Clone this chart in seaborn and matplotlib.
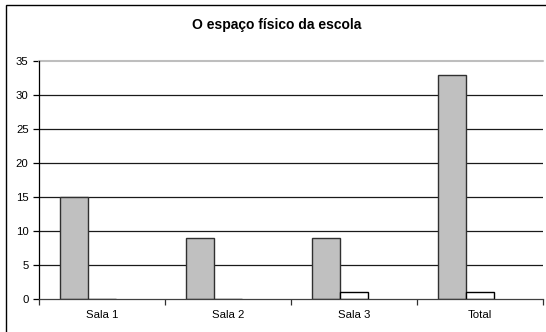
import matplotlib
matplotlib.use("Agg")
import matplotlib.pyplot as plt
from matplotlib.patches import Rectangle
from matplotlib.ticker import FixedLocator, NullFormatter
import pandas as pd
import seaborn as sns

# Data
categorias = ["Sala 1", "Sala 2", "Sala 3", "Total"]
series = ["Série 1", "Série 2", "Série 3"]
serie_1 = [15, 9, 9, 33]
serie_2 = [0, 0, 1, 1]
serie_3 = [0, 0, 0, 0]
y_ticks = [0, 5, 10, 15, 20, 25, 30, 35]
titulo = "O espaço físico da escola"

df = pd.DataFrame({
    "categoria": categorias * 3,
    "serie": [series[0]] * 4 + [series[1]] * 4 + [series[2]] * 4,
    "valor": serie_1 + serie_2 + serie_3,
})

sns.set_style("white", {"text.color": "black", "xtick.color": "black",
                        "ytick.color": "black"})
plt.rcParams["font.family"] = ["Liberation Sans", "DejaVu Sans"]

W, H = 546, 332
fig = plt.figure(figsize=(W / 100, H / 100), dpi=100)
ax = fig.add_axes([39 / W, (H - 299) / H, (543 - 39) / W, (299 - 61) / H])

palette = {series[0]: "#C0C0C0", series[1]: "#FFFFFF", series[2]: "#FFFFFF"}
sns.barplot(data=df, x="categoria", y="valor", hue="serie", order=categorias,
            hue_order=series, palette=palette, width=0.667, dodge=True,
            errorbar=None, saturation=1, legend=False, ax=ax, zorder=3)

# Bar outlines per series (patches are grouped by series)
n = len(categorias)
for i, p in enumerate(ax.patches):
    s = i // n
    if s == 0:
        p.set_edgecolor("#303030")
        p.set_linewidth(1.0)
    elif s == 1:
        p.set_edgecolor("#000000")
        p.set_linewidth(1.0)
    else:
        p.set_visible(False)

ax.set_xlim(-0.5, n - 0.5)
ax.set_ylim(0, 35)
ax.set_yticks(y_ticks)
ax.set_yticklabels([str(t) for t in y_ticks])

# Horizontal gridlines
for t in y_ticks[1:-1]:
    ax.axhline(t, color="#1a1a1a", lw=0.9, zorder=1)
ax.axhline(35, color="#BEBEBE", lw=1.5, zorder=1, clip_on=False)

# Category separators as ticks on the x axis
ax.xaxis.set_minor_locator(FixedLocator([i - 0.5 for i in range(n + 1)]))
ax.xaxis.set_minor_formatter(NullFormatter())
ax.tick_params(axis="x", which="major", length=0, pad=8, labelsize=8.2,
               labelcolor="black")
ax.tick_params(axis="x", which="minor", length=4, width=0.9, color="#303030",
               direction="out", bottom=True)
ax.tick_params(axis="y", which="major", length=4, width=0.9, color="#000000",
               direction="out", left=True, pad=3.5, labelsize=8.2,
               labelcolor="black")

for side in ("top", "right"):
    ax.spines[side].set_visible(False)
ax.spines["left"].set_color("#000000")
ax.spines["left"].set_linewidth(0.9)
ax.spines["bottom"].set_color("#404040")
ax.spines["bottom"].set_linewidth(0.9)
ax.spines["bottom"].set_zorder(4)
ax.set_xlabel("")
ax.set_ylabel("")

fig.text(277 / W, 1 - 25 / H, titulo, ha="center", va="center",
         fontsize=10, fontweight="bold", color="black")

# Outer chart frame
fig.patches.append(Rectangle((6 / W, -0.1), 1.2, 1 - 5 / H + 0.1,
                             transform=fig.transFigure, fill=False,
                             edgecolor="#000000", lw=1.0))

fig.savefig("out.png", dpi=100)
